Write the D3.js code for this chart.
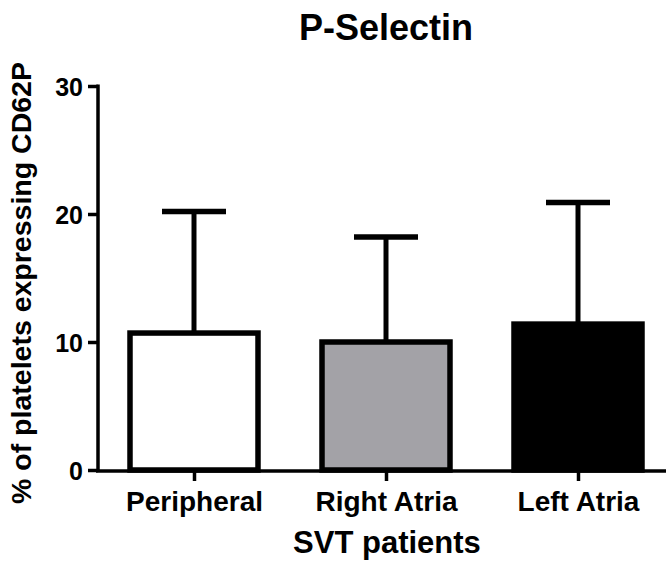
<!DOCTYPE html>
<html>
<head>
<meta charset="utf-8">
<script src="https://cdn.jsdelivr.net/npm/d3@7"></script>
<style>
  body { margin: 0; background: #fff; }
  text { font-family: "Liberation Sans", Arial, sans-serif; font-weight: bold; fill: #000; }
</style>
</head>
<body>
<div id="canvas"></div>
<script>
const width = 666;
const height = 561;

// data
const categories = ['Peripheral', 'Right Atria', 'Left Atria'];
const means = [10.7, 10.0, 11.4];
const sds = [9.5, 8.2, 9.5];
const fills = ['#ffffff', '#a3a2a7', '#000000'];
const yTicks = [0, 10, 20, 30];

const svg = d3.select('#canvas').append('svg')
  .attr('width', width)
  .attr('height', height)

const yScale = d3.scaleLinear().domain([0, 30]).range([470, 86]);
const xScale = d3.scalePoint().domain(categories).range([98, 674]).padding(0.5);
const barW = 128;

// bars
svg.append('g').selectAll('rect')
  .data(categories)
  .join('rect')
  .attr('x', d => xScale(d) - barW / 2)
  .attr('y', (d, i) => yScale(means[i]))
  .attr('width', barW)
  .attr('height', (d, i) => yScale(0) - yScale(means[i]))
  .attr('fill', (d, i) => fills[i])
  .attr('stroke', '#000')
  .attr('stroke-width', 5.5)

// error bars (upper only)
const err = svg.append('g')
err.selectAll('line.v')
  .data(categories)
  .join('line')
  .attr('class', 'v')
  .attr('x1', d => xScale(d)).attr('x2', d => xScale(d))
  .attr('y1', (d, i) => yScale(means[i]))
  .attr('y2', (d, i) => yScale(means[i] + sds[i]))
  .attr('stroke', '#000')
  .attr('stroke-width', 5)
err.selectAll('line.cap')
  .data(categories)
  .join('line')
  .attr('class', 'cap')
  .attr('x1', d => xScale(d) - 32).attr('x2', d => xScale(d) + 32)
  .attr('y1', (d, i) => yScale(means[i] + sds[i]))
  .attr('y2', (d, i) => yScale(means[i] + sds[i]))
  .attr('stroke', '#000')
  .attr('stroke-width', 5.5)

// y axis
const yAxis = d3.axisLeft(yScale).tickValues(yTicks).tickSize(10).tickSizeOuter(0).tickPadding(5);
const gy = svg.append('g').attr('transform', 'translate(98,0)').call(yAxis);
gy.select('.domain').attr('stroke-width', 3.5).attr('d', `M0,${yScale(30) - 1.5}V${yScale(0) + 1.5}`);
gy.selectAll('.tick line').attr('stroke-width', 3.5);
gy.selectAll('.tick text').attr('font-size', 25).attr('dy', '0.36em');

// x axis
const xAxis = d3.axisBottom(xScale).tickSize(10).tickSizeOuter(0).tickPadding(10);
const gx = svg.append('g').attr('transform', 'translate(0,471)').call(xAxis);
gx.select('.domain').attr('stroke-width', 3.5).attr('d', `M96,0H${width}`);
gx.selectAll('.tick line').attr('stroke-width', 3.5);
gx.selectAll('.tick text').attr('font-size', 28).attr('dy', '0.71em');

// titles
svg.append('text')
  .attr('x', 386).attr('y', 40)
  .attr('text-anchor', 'middle')
  .attr('font-size', 36)
  .text('P-Selectin')

svg.append('text')
  .attr('x', 387).attr('y', 553)
  .attr('text-anchor', 'middle')
  .attr('font-size', 31)
  .text('SVT patients')

svg.append('text')
  .attr('transform', 'translate(31,283) rotate(-90)')
  .attr('text-anchor', 'middle')
  .attr('font-size', 28.5)
  .text('% of platelets expressing CD62P')
</script>
</body>
</html>
